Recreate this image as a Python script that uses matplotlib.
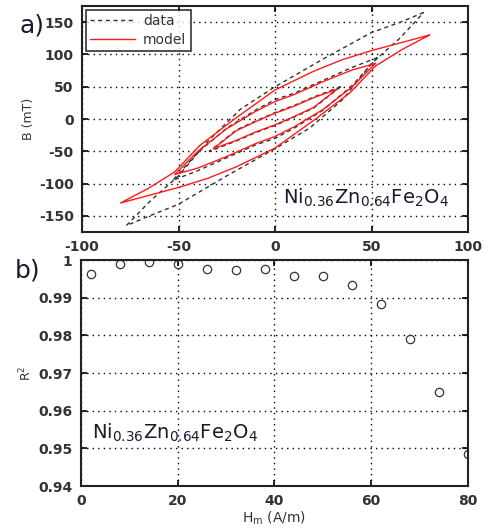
import matplotlib
matplotlib.use("Agg")
import matplotlib.pyplot as plt
import numpy as np
from matplotlib.ticker import FuncFormatter

plt.rcParams["axes.unicode_minus"] = False

# --- hysteresis loops (upper = descending branch) ---
model_big_h_up = [80, 65, 50, 35, 20, 0, -21, -39, -52, -66, -80]
model_big_b_up = [130, 118, 106, 92, 74, 45, 0, -41, -82, -108, -130]
model_big_h_lo = [-80, -65, -50, -35, -20, 0, 21, 39, 52, 66, 80]
model_big_b_lo = [-130, -118, -106, -92, -74, -45, 0, 41, 82, 108, 130]

model_mid_h_up = [52, 40, 25, 10, 0, -10, -25, -40, -52]
model_mid_b_up = [86, 76, 58, 38, 27, 12, -15, -50, -86]
model_mid_h_lo = [-52, -40, -25, -10, 0, 10, 25, 40, 52]
model_mid_b_lo = [-86, -76, -58, -38, -27, -12, 15, 50, 86]

model_small_h_up = [32, 20, 10, 0, -10, -20, -32]
model_small_b_up = [46, 33, 20, 9, -4, -18, -46]
model_small_h_lo = [-32, -20, -10, 0, 10, 20, 32]
model_small_b_lo = [-46, -33, -20, -9, 4, 18, 46]

data_big_h_up = [77, 65, 50, 25, 0, -18, -35, -50, -65, -77]
data_big_b_up = [165, 150, 134, 93, 50, 15, -35, -88, -128, -165]
data_big_h_lo = [-77, -65, -50, -25, 0, 18, 35, 50, 65, 77]
data_big_b_lo = [-165, -150, -132, -88, -46, -14, 30, 86, 126, 165]

data_mid_h_up = [53, 40, 25, 10, 0, -10, -25, -40, -53]
data_mid_b_up = [95, 80, 60, 40, 30, 14, -14, -52, -95]
data_mid_h_lo = [-53, -40, -25, -10, 0, 10, 25, 40, 53]
data_mid_b_lo = [-95, -80, -60, -40, -30, -14, 14, 52, 95]

data_small_h_up = [34, 20, 10, 0, -10, -20, -34]
data_small_b_up = [50, 34, 21, 10, -3, -17, -50]
data_small_h_lo = [-34, -20, -10, 0, 10, 20, 34]
data_small_b_lo = [-50, -34, -21, -10, 3, 17, 50]

# --- R^2 vs Hm ---
hm = [2, 8, 14, 20, 26, 32, 38, 44, 50, 56, 62, 68, 74, 80]
r2 = [0.9963, 0.9989, 0.9994, 0.9989, 0.9976, 0.9974, 0.9976,
      0.9958, 0.9958, 0.9934, 0.9883, 0.9790, 0.9650, 0.9484]

formula = r"Ni$_{0.36}$Zn$_{0.64}$Fe$_{2}$O$_{4}$"

tick_color = "#333333"
grid_kw = dict(color="black", linestyle=(0, (1, 3)), linewidth=1.0)

fig = plt.figure(figsize=(4.92, 5.28), dpi=100)
ax1 = fig.add_axes([0.1667, 0.5606, 0.7846, 0.428])
ax2 = fig.add_axes([0.1646, 0.0795, 0.7866, 0.428])

data_loops = [
    (data_big_h_up, data_big_b_up, data_big_h_lo, data_big_b_lo),
    (data_mid_h_up, data_mid_b_up, data_mid_h_lo, data_mid_b_lo),
    (data_small_h_up, data_small_b_up, data_small_h_lo, data_small_b_lo),
]
model_loops = [
    (model_big_h_up, model_big_b_up, model_big_h_lo, model_big_b_lo),
    (model_mid_h_up, model_mid_b_up, model_mid_h_lo, model_mid_b_lo),
    (model_small_h_up, model_small_b_up, model_small_h_lo, model_small_b_lo),
]

for i, (hu, bu, hl, bl) in enumerate(data_loops):
    ax1.plot(hu + hl, bu + bl, color="#333333", linestyle=(0, (3, 2.5)),
             linewidth=1.0, label="data" if i == 0 else None, zorder=3)
for i, (hu, bu, hl, bl) in enumerate(model_loops):
    ax1.plot(hu + hl, bu + bl, color="#ff1a1a", linewidth=1.0,
             label="model" if i == 0 else None, zorder=4)

ax1.set_xlim(-100, 100)
ax1.set_ylim(-175, 175)
ax1.set_xticks([-100, -50, 0, 50, 100])
ax1.set_yticks([-150, -100, -50, 0, 50, 100, 150])
ax1.grid(True, **grid_kw)
ax1.set_ylabel("B (mT)", fontsize=9, color=tick_color, labelpad=3)
ax1.text(0.52, 0.15, formula, transform=ax1.transAxes, fontsize=14,
         color="#1a1a2e", va="center")
leg = ax1.legend(loc="upper left", fontsize=10, frameon=True, fancybox=False,
                 handlelength=3.2, borderaxespad=0.3, labelspacing=0.3,
                 borderpad=0.3, handletextpad=0.6)
leg.get_frame().set_edgecolor("black")
leg.get_frame().set_linewidth(1.2)
for t in leg.get_texts():
    t.set_color(tick_color)

ax2.plot(hm, r2, linestyle="none", marker="o", markersize=6,
         markerfacecolor="none", markeredgecolor="#333333", markeredgewidth=0.9)
ax2.set_xlim(0, 80)
ax2.set_ylim(0.94, 1.0)
ax2.set_xticks([0, 20, 40, 60, 80])
ax2.set_yticks([0.94, 0.95, 0.96, 0.97, 0.98, 0.99, 1.0])
ax2.yaxis.set_major_formatter(FuncFormatter(lambda v, p: "%g" % round(v, 2)))
ax2.grid(True, **grid_kw)
ax2.set_ylabel(r"R$^2$", fontsize=9, color=tick_color, labelpad=3)
ax2.set_xlabel(r"H$_\mathregular{m}$ (A/m)", fontsize=10, color=tick_color,
               labelpad=1)
ax2.text(0.028, 0.235, formula, transform=ax2.transAxes, fontsize=14,
         color="#1a1a2e", va="center")

for ax in (ax1, ax2):
    ax.tick_params(direction="in", top=True, right=True, length=4,
                   width=1.2, labelsize=10, labelcolor=tick_color, pad=6)
    for lab in ax.get_xticklabels() + ax.get_yticklabels():
        lab.set_fontweight("bold")
    for s in ax.spines.values():
        s.set_linewidth(1.5)
        s.set_color("#222222")

fig.text(0.04, 0.952, "a)", fontsize=18, color="#1a1a2e", va="center")
fig.text(0.03, 0.488, "b)", fontsize=18, color="#1a1a2e", va="center")

fig.savefig("out.png", dpi=100)
